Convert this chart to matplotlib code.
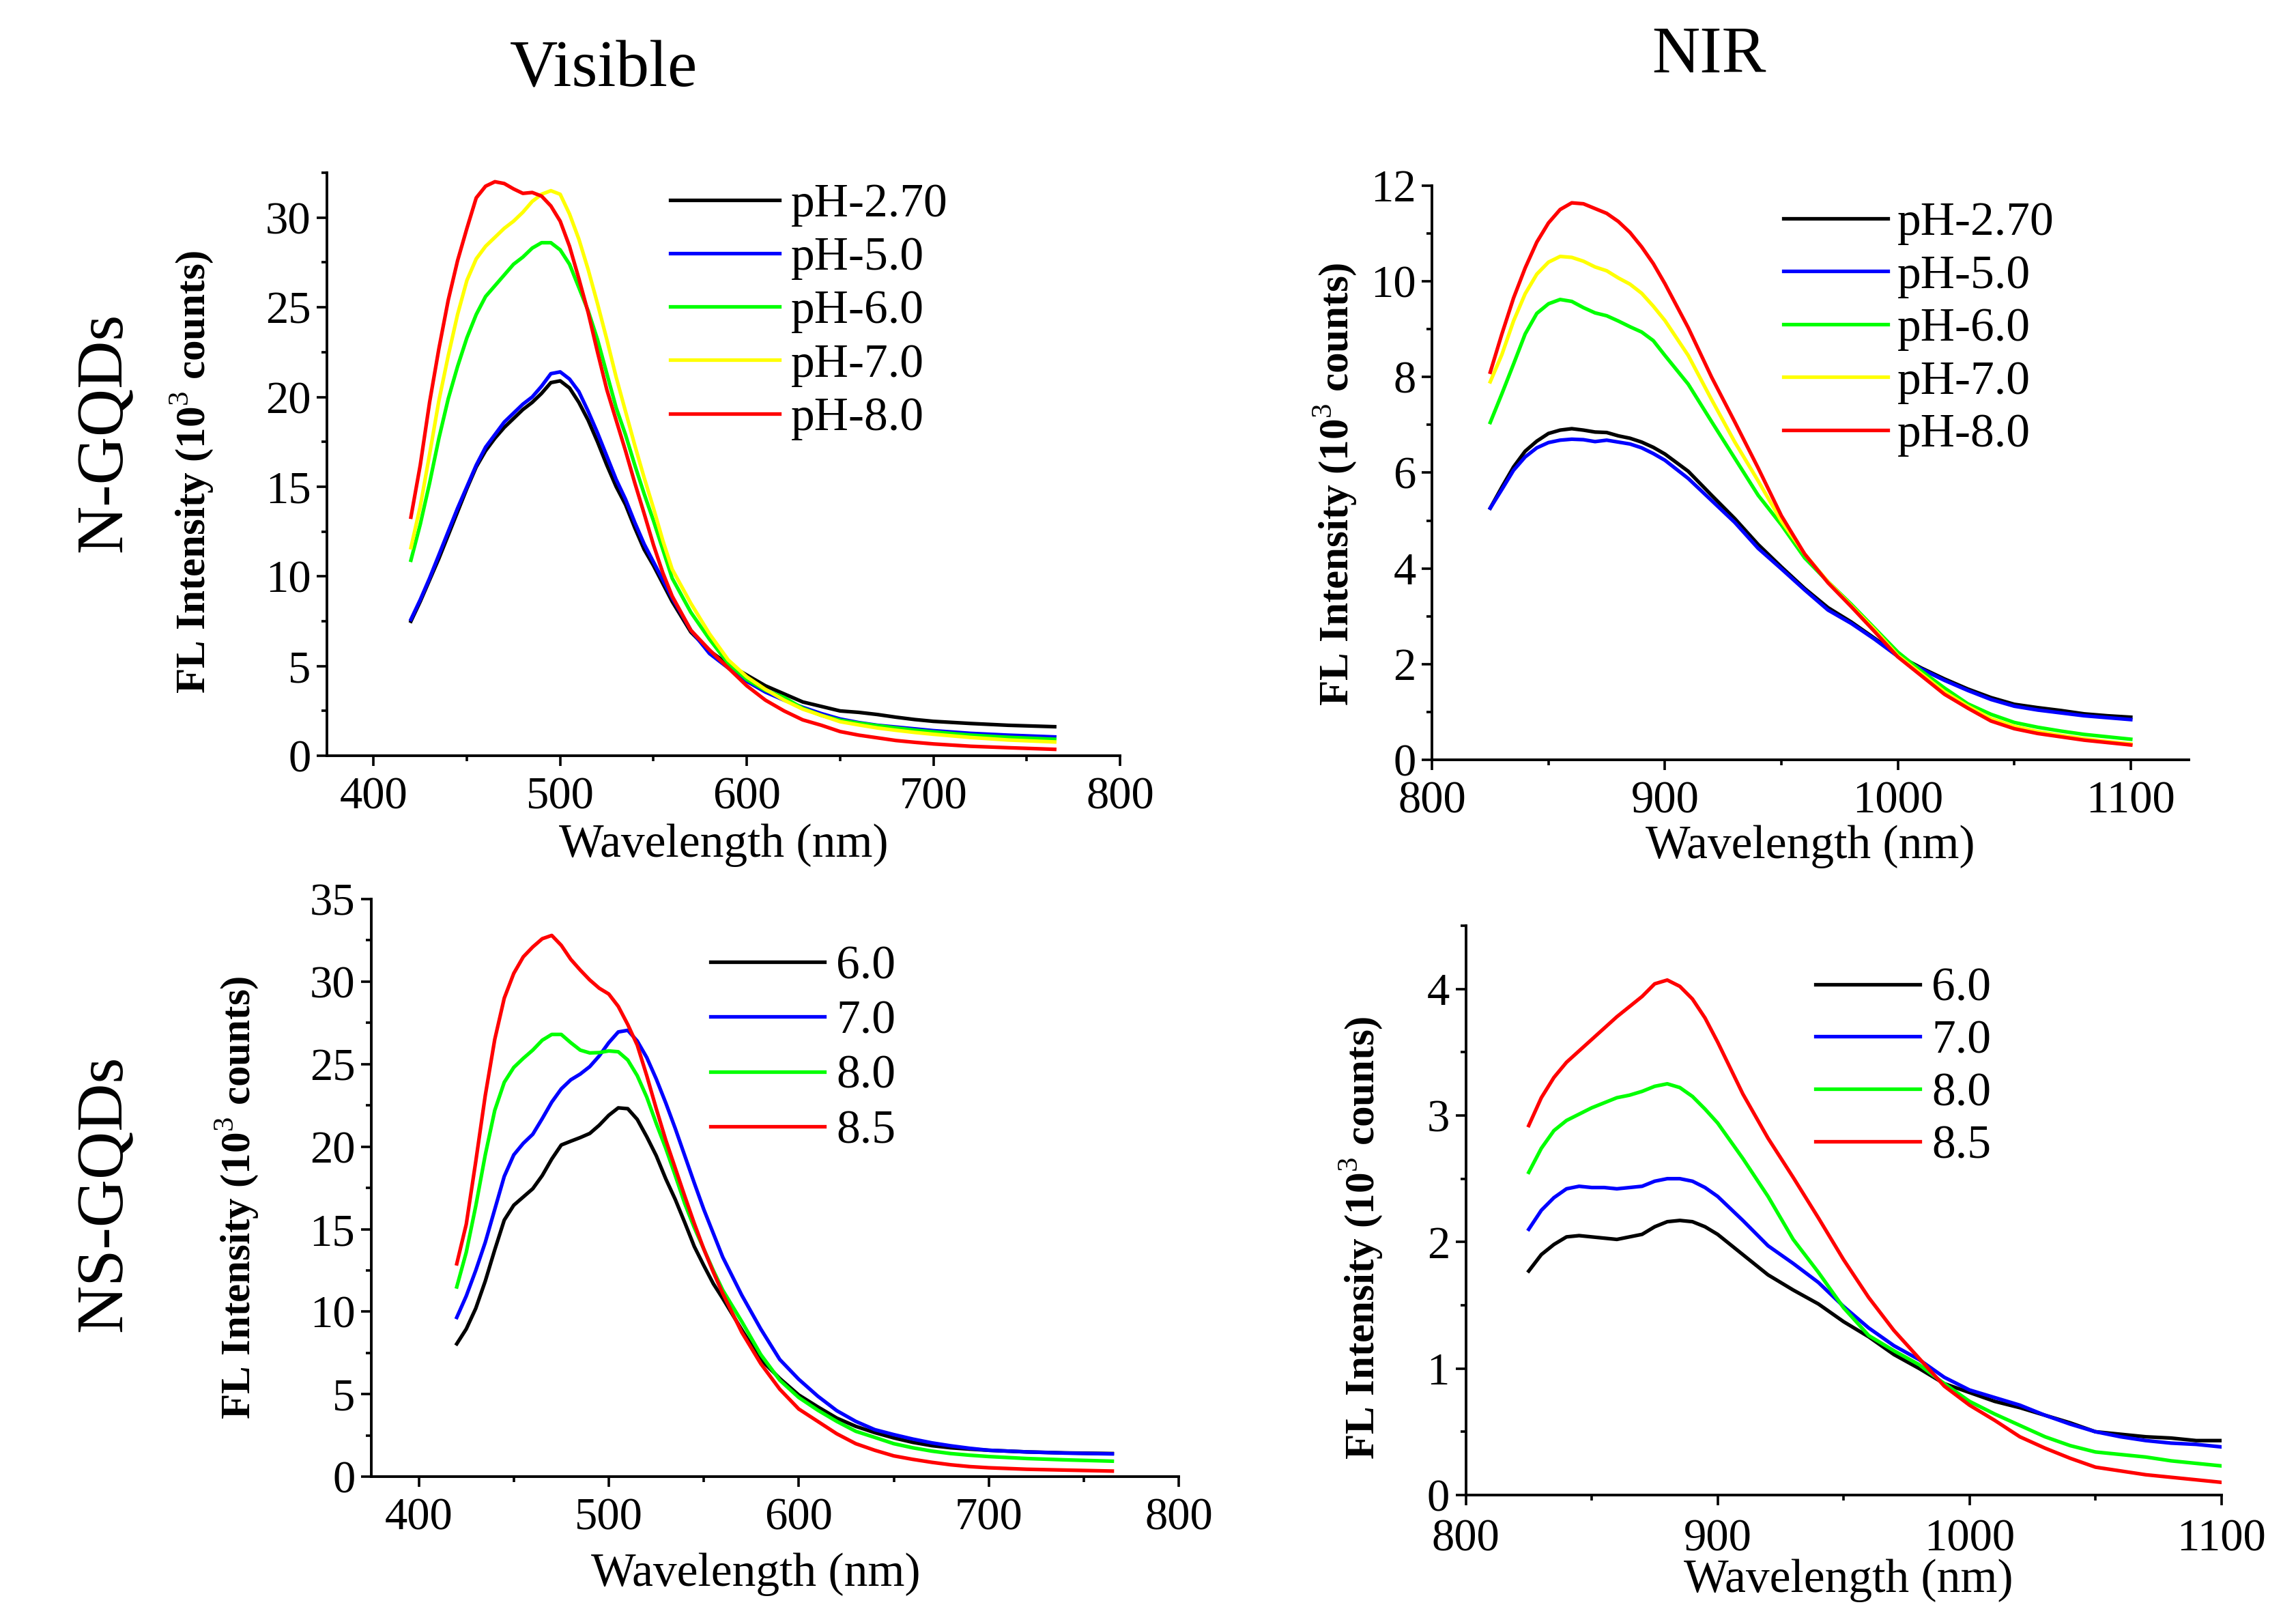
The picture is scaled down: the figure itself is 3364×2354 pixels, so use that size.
import matplotlib
matplotlib.use("Agg")
import matplotlib.pyplot as plt
from matplotlib.ticker import MultipleLocator, AutoMinorLocator

plt.rcParams['font.family'] = ['Liberation Serif', 'DejaVu Serif']
plt.rcParams['mathtext.fontset'] = 'custom'
plt.rcParams['mathtext.rm'] = 'Liberation Serif'
plt.rcParams['mathtext.bf'] = 'Liberation Serif:bold'

# ---------------- data ----------------
vis_wl = [420, 425, 430, 435, 440, 445, 450, 455, 460, 465, 470, 475, 480, 485, 490,
          495, 500, 505, 510, 515, 520, 525, 530, 535, 540, 545, 550, 555, 560,
          570, 580, 590, 600, 610, 620, 630, 640, 650, 660, 670, 680, 690, 700,
          720, 740, 765]
nir_wl = [825, 830, 835, 840, 845, 850, 855, 860, 865, 870, 875, 880, 885, 890, 895, 900,
          910, 920, 930, 940, 950, 960, 970, 980, 990, 1000, 1010, 1020, 1030, 1040,
          1050, 1060, 1070, 1080, 1090, 1100]

# N-GQDs, visible
n_vis_ph270 = [7.5, 8.6, 9.8, 11.0, 12.3, 13.6, 14.9, 16.1, 17.0, 17.7, 18.3, 18.8, 19.3, 19.7, 20.2,
               20.8, 20.9, 20.5, 19.7, 18.7, 17.5, 16.2, 15.0, 14.0, 12.7, 11.5, 10.6, 9.6, 8.6,
               6.9, 5.85, 5.1, 4.5, 3.9, 3.45, 3.0, 2.75, 2.5, 2.42, 2.3, 2.15, 2.02, 1.92,
               1.8, 1.7, 1.62]
n_vis_ph50 = [7.6, 8.7, 9.9, 11.2, 12.5, 13.8, 15.0, 16.2, 17.2, 17.9, 18.6, 19.1, 19.6, 20.0, 20.6,
              21.3, 21.4, 21.0, 20.3, 19.2, 18.0, 16.7, 15.4, 14.3, 13.0, 11.8, 10.8, 9.8, 8.8,
              7.0, 5.7, 4.9, 4.15, 3.55, 3.1, 2.7, 2.35, 2.05, 1.85, 1.7, 1.6, 1.5, 1.4,
              1.25, 1.15, 1.05]
n_vis_ph60 = [10.9, 12.9, 15.2, 17.7, 19.9, 21.7, 23.3, 24.6, 25.6, 26.2, 26.8, 27.4, 27.8, 28.3, 28.6,
              28.6, 28.2, 27.4, 26.1, 24.8, 23.2, 21.3, 19.4, 17.9, 16.2, 14.6, 13.1, 11.5, 9.9,
              8.0, 6.5, 5.15, 4.25, 3.65, 3.25, 2.65, 2.25, 1.98, 1.82, 1.68, 1.55, 1.43, 1.33,
              1.15, 1.03, 0.92]
n_vis_ph70 = [11.6, 13.9, 16.8, 19.8, 22.3, 24.6, 26.5, 27.7, 28.4, 28.9, 29.4, 29.8, 30.3, 30.9, 31.3,
              31.5, 31.3, 30.2, 28.8, 27.1, 25.2, 23.2, 21.1, 19.2, 17.3, 15.5, 13.8, 12.0, 10.4,
              8.5, 6.8, 5.35, 4.4, 3.7, 3.1, 2.6, 2.25, 1.9, 1.72, 1.55, 1.42, 1.3, 1.2,
              1.02, 0.88, 0.77]
n_vis_ph80 = [13.3, 16.2, 19.7, 22.7, 25.4, 27.6, 29.4, 31.1, 31.75, 32.0, 31.9, 31.6, 31.35, 31.4, 31.2,
              30.65, 29.8, 28.4, 26.6, 24.7, 22.5, 20.4, 18.7, 17.0, 15.2, 13.5, 11.75, 10.2, 8.9,
              7.0, 5.9, 4.9, 3.9, 3.1, 2.5, 2.0, 1.7, 1.35, 1.15, 1.0, 0.85, 0.75, 0.66,
              0.53, 0.45, 0.36]

# N-GQDs, NIR
n_nir_ph270 = [5.26, 5.7, 6.12, 6.45, 6.66, 6.82, 6.89, 6.92, 6.89, 6.85, 6.84, 6.77, 6.72, 6.64, 6.53, 6.39,
               6.03, 5.53, 5.04, 4.5, 4.03, 3.58, 3.18, 2.88, 2.54, 2.18, 1.92, 1.69, 1.48, 1.3,
               1.16, 1.09, 1.03, 0.96, 0.92, 0.89]
n_nir_ph50 = [5.26, 5.65, 6.05, 6.33, 6.52, 6.63, 6.68, 6.7, 6.69, 6.65, 6.68, 6.64, 6.6, 6.52, 6.4, 6.26,
              5.88, 5.42, 4.96, 4.42, 3.99, 3.55, 3.13, 2.85, 2.52, 2.16, 1.9, 1.66, 1.45, 1.26,
              1.12, 1.04, 0.98, 0.92, 0.88, 0.84]
n_nir_ph60 = [7.05, 7.65, 8.27, 8.9, 9.33, 9.53, 9.62, 9.58, 9.45, 9.34, 9.28, 9.17, 9.05, 8.94, 8.76, 8.45,
              7.85, 7.07, 6.3, 5.53, 4.91, 4.22, 3.72, 3.25, 2.75, 2.25, 1.86, 1.5, 1.17, 0.95,
              0.78, 0.68, 0.6, 0.53, 0.48, 0.43]
n_nir_ph70 = [7.9, 8.47, 9.17, 9.74, 10.15, 10.4, 10.52, 10.5, 10.42, 10.3, 10.22, 10.07, 9.94, 9.75, 9.48, 9.18,
              8.45, 7.53, 6.64, 5.83, 4.99, 4.3, 3.72, 3.22, 2.72, 2.18, 1.8, 1.42, 1.12, 0.86,
              0.7, 0.59, 0.51, 0.44, 0.38, 0.33]
n_nir_ph80 = [8.1, 8.9, 9.65, 10.28, 10.82, 11.22, 11.5, 11.64, 11.62, 11.52, 11.42, 11.25, 11.02, 10.72, 10.37, 9.95,
              9.03, 8.0, 7.06, 6.1, 5.1, 4.3, 3.7, 3.2, 2.68, 2.15, 1.76, 1.37, 1.08, 0.81,
              0.65, 0.55, 0.48, 0.41, 0.36, 0.31]

# NS-GQDs, visible
ns_vis_60 = [8.05, 8.95, 10.2, 11.85, 13.75, 15.55, 16.45, 16.95, 17.45, 18.25, 19.25, 20.1, 20.33, 20.55, 20.8,
             21.3, 21.9, 22.35, 22.3, 21.65, 20.6, 19.45, 18.05, 16.8, 15.4, 13.95, 12.8, 11.7, 10.8,
             8.9, 7.1, 5.95, 4.95, 4.23, 3.55, 3.05, 2.67, 2.35, 2.08, 1.88, 1.75, 1.67, 1.6,
             1.5, 1.44, 1.4]
ns_vis_70 = [9.65, 10.95, 12.5, 14.2, 16.2, 18.2, 19.5, 20.2, 20.75, 21.7, 22.7, 23.5, 24.05, 24.4, 24.85,
             25.5, 26.3, 26.95, 27.05, 26.4, 25.4, 24.1, 22.65, 21.1, 19.45, 17.8, 16.2, 14.75, 13.3,
             11.0, 8.95, 7.1, 5.9, 4.88, 4.0, 3.35, 2.85, 2.55, 2.28, 2.05, 1.87, 1.72, 1.6,
             1.5, 1.43, 1.38]
ns_vis_80 = [11.5, 13.6, 16.4, 19.5, 22.2, 23.9, 24.8, 25.35, 25.85, 26.45, 26.8, 26.8, 26.3, 25.85, 25.68,
             25.7, 25.8, 25.75, 25.25, 24.3, 23.0, 21.4, 19.9, 18.25, 16.55, 15.1, 13.8, 12.5, 11.3,
             9.4, 7.4, 5.85, 4.8, 4.03, 3.35, 2.75, 2.38, 2.0, 1.75, 1.55, 1.4, 1.3, 1.22,
             1.1, 1.02, 0.94]
ns_vis_85 = [12.9, 15.3, 19.1, 23.1, 26.5, 29.0, 30.5, 31.5, 32.1, 32.6, 32.8, 32.2, 31.35, 30.7, 30.1,
             29.6, 29.25, 28.5, 27.4, 26.15, 24.3, 22.3, 20.4, 18.7, 17.0, 15.35, 13.8, 12.4, 11.1,
             8.75, 6.85, 5.3, 4.1, 3.35, 2.6, 2.0, 1.6, 1.26, 1.05, 0.87, 0.72, 0.61, 0.54,
             0.45, 0.4, 0.34]

# NS-GQDs, NIR
ns_nir_60 = [1.77, 1.9, 1.98, 2.04, 2.05, 2.04, 2.03, 2.02, 2.04, 2.06, 2.12, 2.16, 2.17, 2.16, 2.12, 2.06,
             1.9, 1.74, 1.62, 1.51, 1.37, 1.25, 1.11, 1.0, 0.88, 0.81, 0.74, 0.69, 0.63, 0.57,
             0.5, 0.48, 0.46, 0.45, 0.43, 0.43]
ns_nir_70 = [2.1, 2.25, 2.35, 2.42, 2.44, 2.43, 2.43, 2.42, 2.43, 2.44, 2.48, 2.5, 2.5, 2.48, 2.43, 2.36,
             2.17, 1.97, 1.83, 1.68, 1.49, 1.32, 1.18, 1.07, 0.93, 0.83, 0.77, 0.71, 0.63, 0.56,
             0.5, 0.46, 0.43, 0.41, 0.4, 0.38]
ns_nir_80 = [2.55, 2.74, 2.88, 2.96, 3.01, 3.06, 3.1, 3.14, 3.16, 3.19, 3.23, 3.25, 3.22, 3.15, 3.05, 2.94,
             2.66, 2.36, 2.02, 1.76, 1.48, 1.26, 1.14, 1.03, 0.88, 0.74, 0.64, 0.55, 0.46, 0.39,
             0.34, 0.32, 0.3, 0.27, 0.25, 0.23]
ns_nir_85 = [2.92, 3.14, 3.3, 3.42, 3.51, 3.6, 3.69, 3.78, 3.86, 3.94, 4.04, 4.07, 4.02, 3.92, 3.77, 3.58,
             3.17, 2.82, 2.51, 2.19, 1.86, 1.56, 1.3, 1.08, 0.86, 0.71, 0.59, 0.46, 0.37, 0.29,
             0.22, 0.19, 0.16, 0.14, 0.12, 0.1]

n_labels = ["pH-2.70", "pH-5.0", "pH-6.0", "pH-7.0", "pH-8.0"]
ns_labels = ["6.0", "7.0", "8.0", "8.5"]
n_colors = ["#000000", "#0000FF", "#00FF00", "#FFFF00", "#FF0000"]
ns_colors = ["#000000", "#0000FF", "#00FF00", "#FF0000"]

# ---------------- figure ----------------
fig = plt.figure(figsize=(16.82, 11.77), dpi=200)

ax1 = fig.add_axes([0.1424, 0.5297, 0.3454, 0.3628])
ax2 = fig.add_axes([0.6237, 0.5272, 0.3297, 0.3573])
ax3 = fig.add_axes([0.1617, 0.0811, 0.3517, 0.3594])
ax4 = fig.add_axes([0.6384, 0.0697, 0.3291, 0.3543])

LW = 1.9
TICK_FS = 24
LAB_FS = 25
YLAB = r"FL Intensity (10$^{3}$ counts)"


def style(ax, xlim, ylim, xmaj, ymaj, xlab_xy, ylab_xy, xpad=5.5):
    ax.set_xlim(*xlim)
    ax.set_ylim(*ylim)
    ax.spines['top'].set_visible(False)
    ax.spines['right'].set_visible(False)
    for s in ('left', 'bottom'):
        ax.spines[s].set_linewidth(1.4)
    ax.xaxis.set_major_locator(MultipleLocator(xmaj))
    ax.yaxis.set_major_locator(MultipleLocator(ymaj))
    ax.xaxis.set_minor_locator(AutoMinorLocator(2))
    ax.yaxis.set_minor_locator(AutoMinorLocator(2))
    ax.tick_params(which='major', direction='out', length=5.5, width=1.3,
                   labelsize=TICK_FS, pad=3)
    ax.tick_params(axis='x', which='major', pad=xpad)
    ax.tick_params(which='minor', direction='out', length=3, width=1.3)
    ax.set_xlabel("Wavelength (nm)", fontsize=LAB_FS, va='center')
    ax.xaxis.set_label_coords(*xlab_xy)
    ax.set_ylabel(YLAB, fontsize=22, fontweight='bold', va='center')
    ax.yaxis.set_label_coords(*ylab_xy)


# Panel 1
for y, lab, c in zip([n_vis_ph270, n_vis_ph50, n_vis_ph60, n_vis_ph70, n_vis_ph80], n_labels, n_colors):
    ax1.plot(vis_wl, y, color=c, lw=LW, label=lab)
style(ax1, (375, 800), (0, 32.5), 100, 5, (0.5, -0.153), (-0.170, 0.487))
ax1.legend(loc='upper left', bbox_to_anchor=(0.433, 0.982), frameon=False, fontsize=LAB_FS,
           handlelength=2.3, handletextpad=0.25, labelspacing=0.21, borderpad=0, borderaxespad=0)

# Panel 2
for y, lab, c in zip([n_nir_ph270, n_nir_ph50, n_nir_ph60, n_nir_ph70, n_nir_ph80], n_labels, n_colors):
    ax2.plot(nir_wl, y, color=c, lw=LW, label=lab)
style(ax2, (800, 1125), (0, 12), 100, 2, (0.5, -0.151), (-0.1275, 0.48))
ax2.legend(loc='upper left', bbox_to_anchor=(0.464, 0.972), frameon=False, fontsize=LAB_FS,
           handlelength=2.2, handletextpad=0.2, labelspacing=0.2, borderpad=0, borderaxespad=0)

# Panel 3
for y, lab, c in zip([ns_vis_60, ns_vis_70, ns_vis_80, ns_vis_85], ns_labels, ns_colors):
    ax3.plot(vis_wl, y, color=c, lw=LW, label=lab)
style(ax3, (375, 800), (0, 35), 100, 5, (0.476, -0.169), (-0.166, 0.483))
ax3.legend(loc='upper left', bbox_to_anchor=(0.42, 0.92), frameon=False, fontsize=LAB_FS,
           handlelength=2.4, handletextpad=0.25, labelspacing=0.24, borderpad=0, borderaxespad=0)

# Panel 4
for y, lab, c in zip([ns_nir_60, ns_nir_70, ns_nir_80, ns_nir_85], ns_labels, ns_colors):
    ax4.plot(nir_wl, y, color=c, lw=LW, label=lab)
style(ax4, (800, 1100), (0, 4.5), 100, 1, (0.506, -0.150), (-0.138, 0.452), xpad=7)
ax4.legend(loc='upper left', bbox_to_anchor=(0.463, 0.9265), frameon=False, fontsize=LAB_FS,
           handlelength=2.2, handletextpad=0.25, labelspacing=0.19, borderpad=0, borderaxespad=0)

# Headings
fig.text(0.2628, 0.956, "Visible", fontsize=35, ha='center', va='center')
fig.text(0.7443, 0.965, "NIR", fontsize=35, ha='center', va='center')
fig.text(0.0459, 0.731, "N-GQDs", fontsize=35, ha='center', va='center', rotation=90)
fig.text(0.0459, 0.2572, "NS-GQDs", fontsize=35, ha='center', va='center', rotation=90)

fig.savefig("out.png", dpi=200)
